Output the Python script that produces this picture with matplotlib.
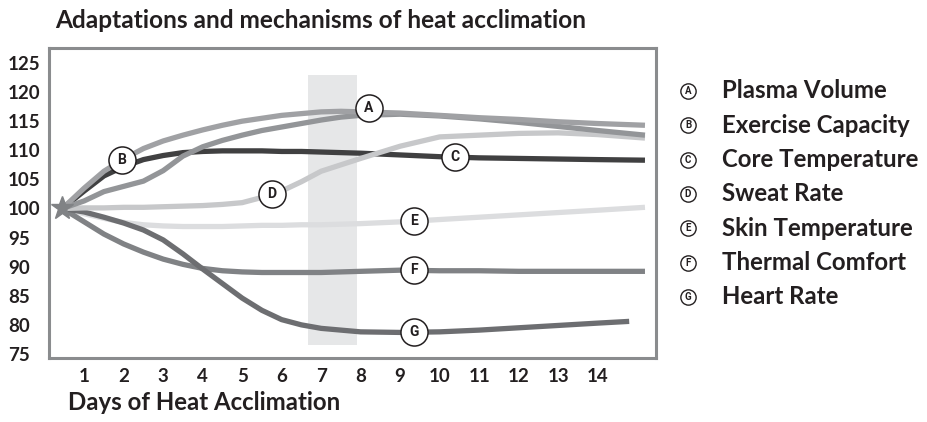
import matplotlib
matplotlib.use("Agg")
import matplotlib.pyplot as plt
from matplotlib import font_manager
from matplotlib.lines import Line2D


def pick_font(*names):
    installed = {f.name for f in font_manager.fontManager.ttflist}
    for name in names:
        if name in installed:
            return name
    return "DejaVu Sans"


TEXT_FONT = pick_font("Lato", "Open Sans", "Noto Sans")
LETTER_FONT = pick_font("Liberation Sans Narrow", "DejaVu Sans Condensed", "Roboto")

# days of acclimation sampled along each curve
days = [0.45, 1, 1.5, 2, 2.5, 3, 3.5, 4, 4.5, 5, 5.5, 6, 6.5, 7, 7.5, 8,
        9, 10, 11, 12, 13, 14, 15.2]
hr_days = [0.45, 1, 1.5, 2, 2.5, 3, 3.5, 4, 4.5, 5, 5.5, 6, 6.5, 7, 7.5, 8,
           9, 10, 11, 12, 13, 14, 14.8]

plasma_volume = [100, 101.3, 102.9, 103.8, 104.7, 106.5, 109.0, 110.6, 111.7,
                 112.6, 113.4, 114.0, 114.6, 115.2, 115.7, 116.0, 116.2, 115.9,
                 115.4, 114.8, 114.1, 113.4, 112.6]
exercise_capacity = [100, 103.5, 106.4, 108.5, 110.3, 111.6, 112.6, 113.5, 114.3,
                     115.0, 115.5, 116.0, 116.3, 116.6, 116.7, 116.6, 116.4, 116.0,
                     115.6, 115.3, 114.9, 114.6, 114.3]
core_temp = [100, 103.0, 105.6, 107.2, 108.4, 109.1, 109.6, 109.8, 109.9, 109.9,
             109.9, 109.8, 109.8, 109.7, 109.6, 109.5, 109.2, 108.9, 108.7, 108.6,
             108.5, 108.4, 108.3]
sweat_rate = [100, 100.1, 100.1, 100.2, 100.2, 100.3, 100.4, 100.5, 100.7, 101.0,
              101.9, 103.0, 104.6, 106.4, 107.5, 108.6, 110.7, 112.3, 112.6, 112.9,
              113.0, 112.7, 112.1]
skin_temp = [100, 99.1, 98.3, 97.6, 97.2, 97.0, 96.9, 96.9, 96.9, 97.0, 97.1, 97.1,
             97.2, 97.2, 97.3, 97.4, 97.7, 98.1, 98.5, 98.9, 99.3, 99.7, 100.2]
thermal_comfort = [100, 97.7, 95.6, 93.9, 92.5, 91.3, 90.4, 89.7, 89.3, 89.1, 89.0,
                   89.0, 89.0, 89.0, 89.1, 89.2, 89.4, 89.3, 89.3, 89.2, 89.2, 89.2,
                   89.2]
heart_rate = [100, 99.4, 98.5, 97.5, 96.3, 94.6, 92.2, 89.6, 87.1, 84.6, 82.5, 80.9,
              80.0, 79.4, 79.1, 78.8, 78.7, 78.8, 79.1, 79.5, 79.9, 80.3, 80.6]

letters = ["A", "B", "C", "D", "E", "F", "G"]
names = ["Plasma Volume", "Exercise Capacity", "Core Temperature", "Sweat Rate",
         "Skin Temperature", "Thermal Comfort", "Heart Rate"]
# where each letter badge sits on its curve
badge_days = [8.2, 1.95, 10.4, 5.75, 9.35, 9.35, 9.35]

y_ticks = [75, 80, 85, 90, 95, 100, 105, 110, 115, 120, 125]
x_ticks = list(range(1, 15))

ink = "#231f20"
frame = "#8a8c8e"

fig = plt.figure(figsize=(9.27, 4.22), dpi=100)
ax = fig.add_axes([0.0529, 0.1517, 0.6548, 0.7346])

# highlighted window around day 7
ax.axvspan(6.67, 7.91, ymin=(76.5 - 74.31) / (127.58 - 74.31),
           ymax=(122.9 - 74.31) / (127.58 - 74.31), color="#e6e7e8", lw=0, zorder=0)

series = [
    (core_temp, days, "#404041"),
    (skin_temp, days, "#dcdddf"),
    (thermal_comfort, days, "#808285"),
    (heart_rate, hr_days, "#6d6e71"),
    (sweat_rate, days, "#c7c8ca"),
    (plasma_volume, days, "#939598"),
    (exercise_capacity, days, "#a0a1a4"),
]
for vals, xs, col in series:
    ax.plot(xs, vals, color=col, lw=3.8, solid_capstyle="butt",
            solid_joinstyle="round", zorder=2)

ax.plot([days[0]], [100], marker="*", ms=17, color="#808285", zorder=4)

# letter badges placed on the curves
curve_for = {"A": (days, plasma_volume), "B": (days, exercise_capacity),
             "C": (days, core_temp), "D": (days, sweat_rate),
             "E": (days, skin_temp), "F": (days, thermal_comfort),
             "G": (hr_days, heart_rate)}
for letter, bx in zip(letters, badge_days):
    xs, ys = curve_for[letter]
    by = None
    for i in range(len(xs) - 1):
        if xs[i] <= bx <= xs[i + 1]:
            t = (bx - xs[i]) / (xs[i + 1] - xs[i])
            by = ys[i] + t * (ys[i + 1] - ys[i])
            break
    if letter == "A":
        by += 1.2
    ax.plot([bx], [by], "o", ms=19.5, mfc="white", mec=ink, mew=1.1, zorder=5)
    ax.text(bx, by, letter, ha="center", va="center", fontsize=10,
            fontweight="bold", family=LETTER_FONT, color=ink, zorder=6)

ax.set_xlim(0.11, 15.48)
ax.set_ylim(74.31, 127.58)
ax.set_xticks(x_ticks)
ax.set_xticklabels([str(t) for t in x_ticks], fontsize=13.5, fontweight="bold",
                   family=TEXT_FONT, color=ink)
ax.set_yticks(y_ticks)
ax.set_yticklabels([str(t) for t in y_ticks], fontsize=13.5, fontweight="bold",
                   family=TEXT_FONT, color=ink, ha="left")
ax.tick_params(axis="both", which="major", length=0)
ax.tick_params(axis="y", pad=29.5)
ax.tick_params(axis="x", pad=7)
ax.set_yticks([100], minor=True)
ax.tick_params(axis="y", which="minor", length=4, width=1.5, color=frame)

for sp in ax.spines.values():
    sp.set_color(frame)
    sp.set_linewidth(2.2)

fig.text(55 / 927, 1 - 21 / 422, "Adaptations and mechanisms of heat acclimation",
         fontsize=17.6, fontweight="bold", family=TEXT_FONT, color=ink,
         ha="left", va="center")
fig.text(68 / 927, 1 - 403 / 422, "Days of Heat Acclimation", fontsize=17.3,
         fontweight="bold", family=TEXT_FONT, color=ink, ha="left", va="center")

# legend column to the right of the chart
for i, (letter, name) in enumerate(zip(letters, names)):
    yy = 1 - (91 + i * 34.3) / 422
    fig.add_artist(Line2D([688 / 927], [yy], transform=fig.transFigure, marker="o",
                          ms=11, mfc="white", mec=ink, mew=1.0, ls="none"))
    fig.text(688 / 927, yy, letter, fontsize=7, fontweight="bold",
             family=LETTER_FONT, color=ink, ha="center", va="center")
    fig.text(722 / 927, yy, name, fontsize=17.3, fontweight="bold",
             family=TEXT_FONT, color=ink, ha="left", va="center")

fig.savefig("out.png", dpi=100)
